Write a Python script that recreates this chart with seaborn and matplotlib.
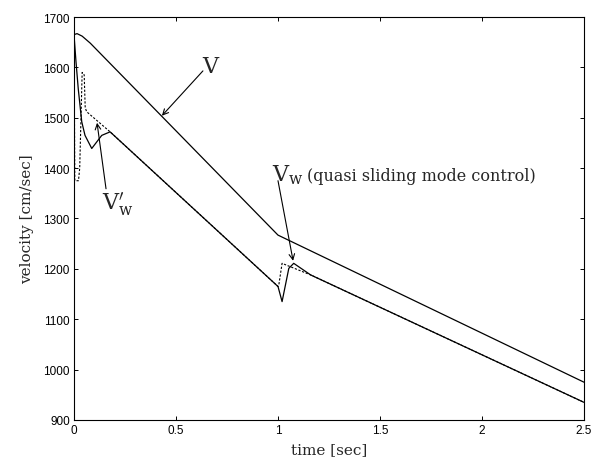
import pandas as pd
import seaborn as sns
import matplotlib.pyplot as plt

# vehicle velocity V
t_v = [0, 0.015, 0.04, 0.08, 1.0, 2.5]
v_vehicle = [1665, 1667, 1662, 1648, 1267, 975]

# wheel velocity Vw (quasi sliding mode control)
t_w = [0, 0.01, 0.021, 0.038, 0.054, 0.087, 0.136, 0.177,
       1.0, 1.02, 1.053, 1.077, 1.16, 2.5]
v_wheel = [1665, 1610, 1557, 1492, 1465, 1439, 1465, 1472,
           1165, 1135, 1201, 1211, 1188, 935]

# wheel velocity Vw' (dashed)
t_wp = [0, 0.004, 0.022, 0.028, 0.04, 0.05, 0.055, 0.062, 0.177,
        1.0, 1.004, 1.02, 1.05, 1.16, 2.5]
v_wheel_p = [1665, 1375, 1375, 1400, 1590, 1585, 1520, 1512, 1472,
             1165, 1168, 1211, 1206, 1188, 935]

x_ticks = [0, 0.5, 1, 1.5, 2, 2.5]
x_labels = ["0", "0.5", "1", "1.5", "2", "2.5"]
y_ticks = [900, 1000, 1100, 1200, 1300, 1400, 1500, 1600, 1700]

sns.set_style("ticks")
plt.rcParams["font.family"] = ["Liberation Sans", "DejaVu Sans"]
plt.rcParams["mathtext.fontset"] = "dejavuserif"
plt.rcParams["xtick.direction"] = "in"
plt.rcParams["ytick.direction"] = "in"

df_v = pd.DataFrame({"t": t_v, "v": v_vehicle})
df_w = pd.DataFrame({"t": t_w, "v": v_wheel})
df_wp = pd.DataFrame({"t": t_wp, "v": v_wheel_p})

fig = plt.figure(figsize=(6.05, 4.64), dpi=100)
ax = fig.add_axes([0.1223, 0.0927, 0.843, 0.8685])

sns.lineplot(data=df_wp, x="t", y="v", ax=ax, color="black", lw=0.8,
             linestyle=(0, (2, 1.5)), sort=False, estimator=None)
sns.lineplot(data=df_v, x="t", y="v", ax=ax, color="black", lw=0.9,
             sort=False, estimator=None)
sns.lineplot(data=df_w, x="t", y="v", ax=ax, color="black", lw=0.9,
             sort=False, estimator=None)

ax.set_xlim(0, 2.5)
ax.set_ylim(900, 1700)
ax.set_xticks(x_ticks)
ax.set_xticklabels(x_labels)
ax.set_yticks(y_ticks)
ax.set_yticklabels([str(y) for y in y_ticks])
ax.tick_params(axis="both", labelsize=8.5, length=3, width=0.7,
               top=True, right=True, pad=3, colors="black")
for s in ax.spines.values():
    s.set_visible(True)
    s.set_linewidth(0.8)
    s.set_color("black")

serif = "DejaVu Serif"
ax.set_xlabel("time [sec]", family=serif, fontsize=11, labelpad=4)
ax.set_ylabel("velocity [cm/sec]", family=serif, fontsize=11, labelpad=7)

arrow = dict(arrowstyle="->", color="black", lw=0.8, shrinkA=0, shrinkB=0)

# V label
ax.annotate("", xy=(0.431, 1504), xytext=(0.632, 1593), arrowprops=arrow)
ax.text(0.667, 1603, "V", family=serif, fontsize=16, ha="center", va="center")

# Vw' label
ax.annotate("", xy=(0.113, 1490), xytext=(0.157, 1359), arrowprops=arrow)
ax.text(0.135, 1330, r"$\mathrm{V_w^{\prime}}$", fontsize=16,
        ha="left", va="center")

# Vw label
ax.annotate("", xy=(1.074, 1216), xytext=(1.0, 1375), arrowprops=arrow)
ax.text(0.97, 1388, r"$\mathrm{V_w}$", fontsize=16, ha="left", va="center")
ax.text(1.142, 1385, "(quasi sliding mode control)", family=serif,
        fontsize=11.5, ha="left", va="center")

fig.savefig("out.png", dpi=100)
